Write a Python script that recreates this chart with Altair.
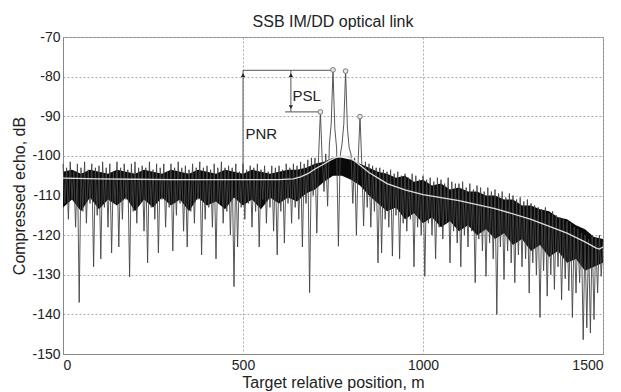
import altair as alt
import pandas as pd

# ---- compressed echo trace, read every 5 m (dB) ----
trace_step = 5
echo_db = [
    # 0 .. 95
    -102, -112, -103, -116, -101.5, -111, -104, -118, -102, -137,
    -103, -114, -101.5, -117, -103.5, -112, -102, -128, -103, -115,
    # 100 .. 195
    -102.5, -126, -101.5, -113, -103, -118, -102, -124.5, -104, -112,
    -101.5, -123, -103, -116, -102, -111, -103.5, -130.5, -102, -114,
    # 200 .. 295
    -101.5, -117, -103, -112, -102.5, -119, -103, -127, -101.5, -113,
    -103.5, -116, -102, -124.5, -103, -111, -102, -118, -104, -113,
    # 300 .. 395
    -102, -124, -103, -115, -101.5, -112, -103, -119, -102.5, -123,
    -103.5, -114, -102, -117, -103, -111, -101.5, -125, -103, -116,
    # 400 .. 495
    -102.5, -113, -103.5, -118, -102, -126, -103, -112, -101.5, -117,
    -103, -114, -102.5, -120, -103, -133, -102, -123, -104, -113,
    # 500 .. 595
    -102, -116, -103.5, -112, -102.5, -118, -103, -114, -102, -123,
    -103.5, -111, -102.5, -117, -104, -113, -102.5, -119, -103, -125,
    # 600 .. 695
    -102.5, -114, -103.5, -122, -102, -112, -103, -117, -102, -113,
    -102.5, -116, -101.5, -123, -102, -112, -101, -134.5, -100.5, -110,
    # 700 .. 795
    -100.5, -119.5, -100, -88.9, -101, -109, -99.5, -112.7, -97, -92,
    -78.3, -93, -98, -122.8, -100, -97, -92, -78.6, -93, -98,
    # 800 .. 895
    -99.5, -112, -100.5, -120, -101, -90.1, -102, -117.7, -101.5, -113,
    -102, -118, -102.5, -114, -103, -127, -103, -124.5, -103.5, -116,
    # 900 .. 995
    -104, -118, -103.5, -125.3, -104.5, -115, -104, -126, -105, -117,
    -104.5, -119, -105.5, -116, -104.5, -128, -105, -118, -106, -120,
    # 1000 .. 1095
    -105, -130.4, -106, -117, -105.5, -120, -106.5, -126, -105.5, -118,
    -106, -121, -107, -117, -105.5, -127, -106.5, -119, -107, -122,
    # 1100 .. 1195
    -107, -128, -106.5, -120, -108, -123, -107, -119, -108.5, -132,
    -107.5, -121, -108, -124, -109, -130.4, -108, -122, -109, -126,
    # 1200 .. 1295
    -108.5, -140, -109.5, -123, -109, -131.2, -110.5, -124, -109.5, -127,
    -110, -132, -111, -125, -110.5, -128, -111.5, -126, -111, -134.6,
    # 1300 .. 1395
    -112, -127, -112.5, -130, -113, -140.8, -113.5, -129, -113, -135.4,
    -114.5, -130, -114, -133.7, -115, -128, -115.5, -136.3, -116, -131,
    # 1400 .. 1500
    -116.5, -134, -117, -140.8, -118, -134.6, -118.5, -132, -119.5, -146.4,
    -120, -143.4, -121, -144.7, -120, -141.3, -120.5, -134.6, -120, -130.4,
    -121.5,
]
position_m = [i * trace_step for i in range(len(echo_db))]

# ---- dense (solid black) core of the noise band, read every 25 m ----
core_step = 25
core_top = [
    -104, -103.5, -104.5, -103.5, -104, -104.5, -103.5, -104, -104.5, -103.5,
    -104, -104.5, -103.5, -104, -104.5, -103.5, -104, -104.5, -103.5, -104,
    -104.5, -103.5, -104, -104.5, -104, -103.5, -103.5, -103, -102, -101.5,
    -100.5, -100.5, -101, -102, -103, -104, -104.5, -105.5, -105, -106.5,
    -106, -107.5, -107, -108.5, -108, -109, -109, -110, -110, -111,
    -111, -112.5, -112.5, -113.5, -114, -115.5, -116, -117.5, -118.5, -120.5,
    -121,
]
core_bot = [
    -113, -111, -114, -110.5, -113.5, -111, -112.5, -110.5, -114, -111,
    -113, -110.5, -112.5, -111, -114, -110.5, -112.5, -111.5, -113.5, -110.5,
    -112.5, -111, -113.5, -110.5, -112, -110.5, -111.5, -109.5, -108.5, -106.5,
    -105, -105, -106, -107.5, -110, -112, -114, -113, -116, -114.5,
    -117, -115.5, -118, -116.5, -119, -117.5, -120, -118.5, -121, -119.5,
    -122.5, -121, -124, -122.5, -125.5, -124, -127, -126, -129, -128,
    -127,
]
core_x = [i * core_step for i in range(len(core_top))]

# ---- smoothed noise floor (white curve) ----
floor_x = [0, 100, 200, 300, 400, 500, 600, 640, 660, 680, 700, 720, 740, 760,
           780, 800, 820, 850, 900, 950, 1000, 1100, 1200, 1300, 1400, 1450,
           1480, 1490, 1500]
floor_db = [-105.6, -105.8, -105.9, -106, -106, -106, -106, -105.8, -105.3,
            -104.5, -103.3, -102.3, -101.2, -100.3, -100, -100.6, -102, -104.2,
            -107, -108.6, -109.8, -111.3, -113.3, -116, -119.5, -121.7, -123.2,
            -123.5, -123]

# ---- marked peaks ----
peak_x = [715, 750, 785, 825]
peak_db = [-88.9, -78.3, -78.6, -90.1]

# ---- PNR / PSL annotation segments ----
seg_x1 = [500, 500, 633, 617]
seg_x2 = [500, 750, 633, 715]
seg_y1 = [-104, -78.4, -78.4, -88.9]
seg_y2 = [-78.4, -78.4, -88.9, -88.9]
head_x = [500, 633, 633]
head_y = [-79.6, -79.6, -87.7]
head_shape = ["triangle-up", "triangle-up", "triangle-down"]
label_text = ["PSL", "PNR"]
label_x = [677, 551]
label_y = [-84.9, -94.6]

# ---- axis ticks ----
x_ticks = [0, 500, 1000, 1500]
y_ticks = [-150, -140, -130, -120, -110, -100, -90, -80, -70]

trace = pd.DataFrame({"x": position_m, "y": echo_db})
core = pd.DataFrame({"x": core_x, "y": core_top, "y2": core_bot})
floor = pd.DataFrame({"x": floor_x, "y": floor_db})
peaks = pd.DataFrame({"x": peak_x, "y": peak_db})
segs = pd.DataFrame({"x": seg_x1, "x2": seg_x2, "y": seg_y1, "y2": seg_y2})
heads = pd.DataFrame({"x": head_x, "y": head_y, "shape": head_shape})
labels = pd.DataFrame({"x": label_x, "y": label_y, "t": label_text})

FONT = "Liberation Sans"

xs = alt.Scale(domain=[0, 1500], nice=False)
ys = alt.Scale(domain=[-150, -70], nice=False)

x_axis = alt.Axis(values=x_ticks, title="Target relative position, m",
                  labelExpr="'' + datum.value", grid=True, labelOverlap=False)
y_axis = alt.Axis(values=y_ticks, tickCount=9, title="Compressed echo, dB",
                  labelOverlap=False, labelExpr="'' + datum.value", grid=True)

X = alt.X("x:Q", scale=xs, axis=x_axis)
Y = alt.Y("y:Q", scale=ys, axis=y_axis)

core_area = alt.Chart(core).mark_area(color="#0a0a0a", opacity=1,
                                      interpolate="linear").encode(
    x=X, y=Y, y2="y2:Q"
)

line = alt.Chart(trace).mark_line(color="#444444", strokeWidth=0.9).encode(
    x=X, y=Y
)

floor_line = alt.Chart(floor).mark_line(color="#dddddd", strokeWidth=1.3).encode(
    x=X, y=Y
)

peak_pts = alt.Chart(peaks).mark_point(shape="circle", size=22, filled=True,
                                       fill="#e8e8e8", stroke="#777",
                                       strokeWidth=1, opacity=1).encode(
    x=X, y=Y
)

seg_rules = alt.Chart(segs).mark_rule(color="#555", strokeWidth=1).encode(
    x=X, x2="x2:Q", y=Y, y2="y2:Q",
)

head_pts = alt.Chart(heads).mark_point(filled=True, color="#222", size=18,
                                       opacity=1).encode(
    x=X, y=Y,
    shape=alt.Shape("shape:N", scale=None, legend=None),
)

text = alt.Chart(labels).mark_text(font=FONT, fontSize=15, color="#222",
                                   align="center", baseline="middle").encode(
    x=X, y=Y, text="t:N"
)

chart = alt.layer(core_area, line, floor_line, seg_rules, head_pts, peak_pts,
                  text).properties(
    width=540,
    height=317,
    autosize=alt.AutoSizeParams(type="none"),
    padding={"left": 55, "top": 29, "right": 10, "bottom": 38},
    title=alt.TitleParams("SSB IM/DD optical link", font=FONT, fontSize=16,
                          fontWeight="normal", color="#222", offset=0,
                          anchor="middle"),
).configure_axis(
    labelFont=FONT, labelFontSize=14, labelColor="#222",
    titleFont=FONT, titleFontSize=16, titleFontWeight="normal", titleColor="#222",
    domainColor="#888", tickSize=0, labelPadding=4, titlePadding=2,
    gridColor="#aaa", gridDash=[2, 2], gridWidth=1, labelOverlap=False,
).configure_axisY(labelPadding=3, titlePadding=4).configure_view(
    stroke="#888", strokeWidth=1
)

chart.save("out.html", embed_options={"renderer": "svg", "actions": False})
